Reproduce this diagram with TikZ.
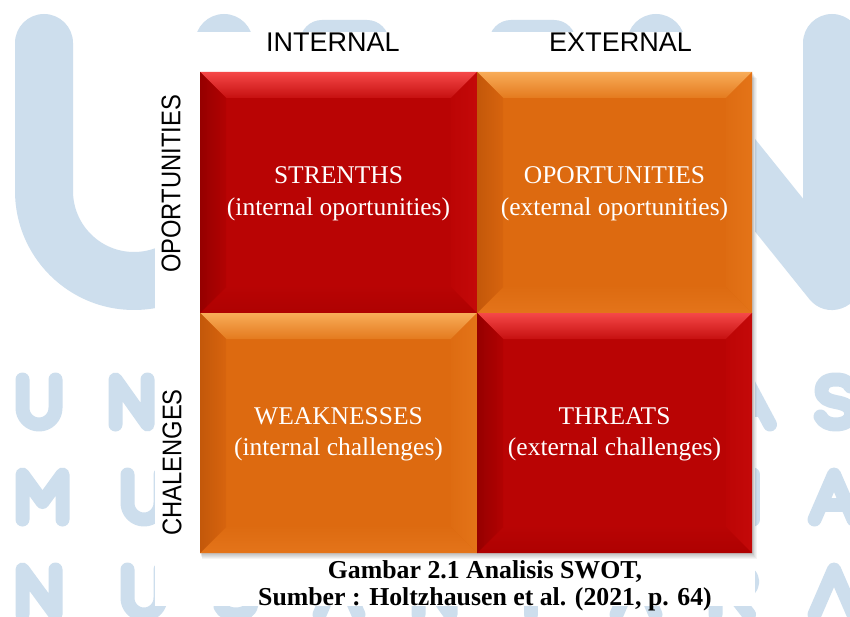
\documentclass[tikz,border=0pt]{standalone}
\usepackage{fontspec}
\setmainfont{Liberation Serif}
\newfontfamily\sansf{Liberation Sans}
\usepackage{graphicx}

% watermark
\definecolor{wmblue}{RGB}{205,222,237}
% red quadrant
\definecolor{rface}{RGB}{185,4,4}
\definecolor{rtopA}{RGB}{245,72,72}
\definecolor{rtopB}{RGB}{198,16,16}
\definecolor{rbotA}{RGB}{184,4,4}
\definecolor{rbotB}{RGB}{174,1,1}
\definecolor{rleftA}{RGB}{150,0,0}
\definecolor{rleftB}{RGB}{178,2,2}
\definecolor{rrightA}{RGB}{188,5,5}
\definecolor{rrightB}{RGB}{196,9,9}
% orange quadrant
\definecolor{oface}{RGB}{221,106,16}
\definecolor{otopA}{RGB}{248,172,88}
\definecolor{otopB}{RGB}{228,122,30}
\definecolor{obotA}{RGB}{221,107,17}
\definecolor{obotB}{RGB}{228,116,26}
\definecolor{oleftA}{RGB}{195,88,10}
\definecolor{oleftB}{RGB}{215,100,14}
\definecolor{orightA}{RGB}{222,108,18}
\definecolor{orightB}{RGB}{228,116,24}

\tikzset{
  wm/.style={draw=wmblue, line width=14pt, line cap=round, line join=round},
  logo/.style={draw=wmblue, line width=58pt, line cap=round, line join=round},
  celltext/.style={text=white, align=center, inner sep=0pt,
    font=\fontsize{25.5}{31.5}\selectfont},
  hdr/.style={inner sep=0pt, font=\sansf\fontsize{27}{30}\selectfont},
  captext/.style={inner sep=0pt, align=center,
    font=\bfseries\fontsize{25.8}{27}\selectfont},
}

% bevelled quadrant: x0, y0, x1, y1, colour prefix (r or o)
\newcommand\swotcell[5]{%
  \pgfmathsetmacro\xin{#1+26}\pgfmathsetmacro\xout{#3-26}%
  \pgfmathsetmacro\yin{#2+26}\pgfmathsetmacro\yout{#4-26}%
  \fill[#5face] (#1,#2) rectangle (#3,#4);
  \shade[top color=#5topA, bottom color=#5topB]
    (#1,#2) -- (#3,#2) -- (\xout,\yin) -- (\xin,\yin) -- cycle;
  \shade[top color=#5botA, bottom color=#5botB]
    (#1,#4) -- (#3,#4) -- (\xout,\yout) -- (\xin,\yout) -- cycle;
  \shade[left color=#5leftA, right color=#5leftB]
    (#1,#2) -- (\xin,\yin) -- (\xin,\yout) -- (#1,#4) -- cycle;
  \shade[left color=#5rightA, right color=#5rightB]
    (#3,#2) -- (\xout,\yin) -- (\xout,\yout) -- (#3,#4) -- cycle;
}

% letter S of the watermark, local box 31 x 45
\newcommand\wmS[2]{%
  \begin{scope}[shift={(#1,#2)}]
    \draw[wm] (30,7) .. controls (26,0) and (19,0) .. (15,0)
      .. controls (5,0) and (1,5) .. (1,11)
      .. controls (1,19) and (8,21) .. (15,22.5)
      .. controls (24,24) and (31,27) .. (31,34)
      .. controls (31,41) and (24,45) .. (15,45)
      .. controls (9,45) and (3,43) .. (0,37);
  \end{scope}}

\begin{document}
\begin{tikzpicture}[x=1pt, y=-1pt]
\useasboundingbox (0,0) rectangle (850,617);
\fill[white] (0,0) rectangle (850,617);

% ---- watermark: large logo ----
\draw[logo, rounded corners=90pt] (44,43) -- (44,281) -- (224,281) -- (224,43);
\fill[wmblue, rounded corners=22pt] (300,90) -- (300,20) -- (389,20) -- (389,90) -- cycle;
\fill[wmblue, rounded corners=22pt] (489,90) -- (489,20) -- (576,20) -- (576,90) -- cycle;
\draw[logo] (656,281) -- (656,43);
\draw[logo] (656,62) -- (832,281) -- (832,43);

% ---- watermark: lettering ----
% UNIVERSITAS
\draw[wm, rounded corners=16.5pt] (22.5,379.5) -- (22.5,424.5) -- (55.5,424.5) -- (55.5,379.5);
\draw[wm] (115.5,424.5) -- (115.5,379.5) -- (147.5,424.5) -- (147.5,379.5);
\draw[wm] (722,424.5) -- (746,379.5) -- (770,424.5);
\draw[wm] (731,410) -- (761,410);
\wmS{820.5}{379.5}
% MULTIMEDIA
\draw[wm] (22.5,519.5) -- (22.5,474.5) -- (42.5,502) -- (62.5,474.5) -- (62.5,519.5);
\draw[wm, rounded corners=16.5pt] (127.5,474.5) -- (127.5,519.5) -- (160.5,519.5) -- (160.5,474.5);
\draw[wm] (753,474.5) -- (753,519.5);
\draw[wm] (814.5,519.5) -- (834,474.5) -- (853.5,519.5);
\draw[wm] (822,505) -- (846,505);
% NUSANTARA
\draw[wm] (22.5,614.5) -- (22.5,569.5) -- (55.5,614.5) -- (55.5,569.5);
\draw[wm, rounded corners=16.5pt] (127.5,569.5) -- (127.5,614.5) -- (160.5,614.5) -- (160.5,569.5);
\wmS{220.5}{569.5}
\draw[wm] (319.5,614.5) -- (339,569.5) -- (358.5,614.5);
\draw[wm] (418.5,614.5) -- (418.5,569.5) -- (450.5,614.5) -- (450.5,569.5);
\draw[wm] (510,569.5) -- (552,569.5);
\draw[wm] (531,569.5) -- (531,614.5);
\draw[wm] (616.5,614.5) -- (636,569.5) -- (655.5,614.5);
\draw[wm] (715.5,614.5) -- (715.5,569.5) -- (735,569.5)
  .. controls (758,569.5) and (758,594) .. (735,594) -- (715.5,594);
\draw[wm] (733,594) -- (749,614.5);
\draw[wm] (814.5,614.5) -- (834,569.5) -- (853.5,614.5);

% ---- white panel carrying the figure ----
\fill[white] (155,32) rectangle (755,606);

% ---- drop shadow of the matrix ----
\foreach \i in {1,...,6}
  \fill[black, opacity=0.045] (200+\i*0.3,72+\i) rectangle (752+\i*0.8,553+\i);

% ---- the four quadrants ----
\swotcell{200}{72}{477}{313}{r}
\swotcell{477}{72}{752}{313}{o}
\swotcell{200}{313}{477}{553}{o}
\swotcell{477}{313}{752}{553}{r}

\node[celltext] (str) at (338.5,194) {STRENTHS\\(internal oportunities)};
\node[celltext] (opp) at (614.5,194) {OPORTUNITIES\\(external oportunities)};
\node[celltext] (wea) at (338.5,434.5) {WEAKNESSES\\(internal challenges)};
\node[celltext] (thr) at (614.5,434.5) {THREATS\\(external challenges)};

% ---- axis headings ----
\node[hdr, anchor=base] (int) at (333,52) {INTERNAL};
\node[hdr, anchor=base] (ext) at (620.5,52) {EXTERNAL};
\node[hdr, rotate=90] (rowo) at (171,184) {\scalebox{0.88}[1]{OPORTUNITIES}};
\node[hdr, rotate=90] (rowc) at (172,462.5) {\scalebox{0.88}[1]{CHALENGES}};

% ---- caption ----
\node[captext] (cap) at (485,585.4) {Gambar 2.1 Analisis SWOT,\\Sumber : Holtzhausen et al. (2021, p. 64)};
\end{tikzpicture}
\end{document}
